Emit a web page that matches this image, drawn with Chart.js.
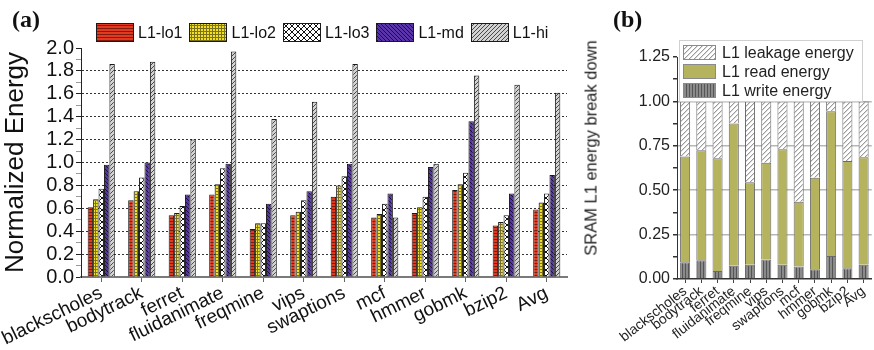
<!DOCTYPE html>
<html>
<head>
<meta charset="utf-8">
<script src="https://cdn.jsdelivr.net/npm/chart.js@4.4.1/dist/chart.umd.min.js"></script>
<style>
  html, body { margin: 0; padding: 0; background: #fff; }
  body { width: 874px; height: 350px; position: relative; overflow: hidden;
         font-family: "Liberation Sans", Arial, sans-serif; color: #111; }
  canvas { position: absolute; top: 0; }
  #chartA { left: 0; }
  #chartB { left: 577px; filter: blur(0.35px); }
  .tag { position: absolute; font-family: "Liberation Serif", "Times New Roman", serif;
         font-weight: bold; font-size: 24px; line-height: 1; color: #111; }
  #legendA { position: absolute; left: 96px; top: 23px; display: flex; align-items: center;
             font-size: 16px; line-height: 19px; white-space: nowrap; }
  #legendA .item { display: flex; align-items: center; margin-right: 7px; }
  #legendA canvas, #legendB canvas { position: static; display: block; }
  #legendA .label { margin-left: 4px; }
  #legendB { position: absolute; left: 679px; top: 40px; background: #fff; color: #222;
             border: 1px solid #d0d0d0; padding: 2px 8px 1px 3px; font-size: 16px; white-space: nowrap;
             filter: blur(0.3px); }
  #legendB .item { display: flex; align-items: center; height: 19px; }
  #legendB .label { margin-left: 6px; }
  #titleB { position: absolute; left: 591px; top: 148px; font-size: 16.5px; color: #222;
            white-space: nowrap; transform: translate(-50%, -50%) rotate(-90deg); filter: blur(0.3px); }
</style>
</head>
<body>
<canvas id="chartA" width="600" height="350"></canvas>
<canvas id="chartB" width="297" height="350"></canvas>
<div class="tag" style="left:12px; top:7px;">(a)</div>
<div class="tag" style="left:613px; top:7px;">(b)</div>
<div id="titleB">SRAM L1 energy break down</div>
<div id="legendA"></div>
<div id="legendB"></div>

<script>
// ---- Panel (a): normalized L1 energy per benchmark ----
const categories = ['blackscholes', 'bodytrack', 'ferret', 'fluidanimate', 'freqmine', 'vips',
                    'swaptions', 'mcf', 'hmmer', 'gobmk', 'bzip2', 'Avg'];
const seriesNames = ['L1-lo1', 'L1-lo2', 'L1-lo3', 'L1-md', 'L1-hi'];
const lo1 = [0.61, 0.67, 0.54, 0.72, 0.42, 0.54, 0.70, 0.52, 0.56, 0.76, 0.45, 0.59];
const lo2 = [0.68, 0.75, 0.56, 0.81, 0.47, 0.57, 0.80, 0.55, 0.61, 0.81, 0.48, 0.65];
const lo3 = [0.77, 0.87, 0.62, 0.95, 0.47, 0.67, 0.88, 0.64, 0.70, 0.91, 0.54, 0.73];
const md  = [0.98, 1.00, 0.72, 0.99, 0.64, 0.75, 0.99, 0.73, 0.96, 1.36, 0.73, 0.89];
const hi  = [1.86, 1.88, 1.20, 1.97, 1.38, 1.53, 1.86, 0.52, 0.99, 1.76, 1.68, 1.61];
const yTicksA = ['0.0', '0.2', '0.4', '0.6', '0.8', '1.0', '1.2', '1.4', '1.6', '1.8', '2.0'];

// ---- Panel (b): SRAM L1 energy breakdown ----
const breakdownNames = ['L1 write energy', 'L1 read energy', 'L1 leakage energy'];
const writeEnergy   = [0.095, 0.105, 0.045, 0.075, 0.080, 0.110, 0.080, 0.070, 0.055, 0.130, 0.060, 0.080];
const readEnergy    = [0.595, 0.620, 0.635, 0.800, 0.465, 0.545, 0.650, 0.365, 0.515, 0.815, 0.605, 0.605];
const leakageEnergy = [0.310, 0.275, 0.320, 0.125, 0.455, 0.345, 0.270, 0.565, 0.430, 0.055, 0.335, 0.315];
const yTicksB = ['0.00', '0.25', '0.50', '0.75', '1.00', '1.25'];

// Small repeating tiles used as hatch fills
function tile(w, h, bg, paint) {
  const c = document.createElement('canvas');
  c.width = w; c.height = h;
  const g = c.getContext('2d');
  g.fillStyle = bg; g.fillRect(0, 0, w, h);
  if (paint) paint(g);
  return c;
}
function dots(g, color, pts) { g.fillStyle = color; pts.forEach(([x, y]) => g.fillRect(x, y, 1, 1)); }

const tiles = {
  lo1: tile(4, 3, '#e2391f', g => { g.fillStyle = '#7c1d10'; g.fillRect(0, 2, 4, 1); }),
  lo2: tile(3, 3, '#f2e21c', g => { g.fillStyle = '#7a7020'; g.fillRect(0, 2, 3, 1); g.fillRect(2, 0, 1, 3); }),
  lo3: tile(6, 6, '#ffffff', g => dots(g, '#111', [[0,0],[1,1],[2,2],[3,3],[4,4],[5,5],[5,0],[4,1],[3,2],[2,3],[1,4],[0,5]])),
  md:  tile(4, 4, '#5834a8', g => dots(g, '#1b0f3c', [[0,0],[1,1],[2,2],[3,3]])),
  hi:  tile(4, 4, '#d3d3d3', g => dots(g, '#4a4a4a', [[3,0],[2,1],[1,2],[0,3]])),
  leak: tile(5, 5, '#ffffff', g => {
    dots(g, '#9a9a9a', [[4,0],[3,1],[2,2],[1,3],[0,4]]);
    dots(g, '#dadada', [[0,0],[4,1],[3,2],[2,3],[1,4]]);
  }),
  read: tile(2, 2, '#b5b35d'),
  write: tile(3, 1, '#8a8a8a', g => { g.fillStyle = '#555'; g.fillRect(0, 0, 1, 1); })
};

const ctxA = document.getElementById('chartA').getContext('2d');
const ctxB = document.getElementById('chartB').getContext('2d');
const pat = (ctx, key) => ctx.createPattern(tiles[key], 'repeat');

const seriesA = [lo1, lo2, lo3, md, hi];
const tileKeysA = ['lo1', 'lo2', 'lo3', 'md', 'hi'];

const chartA = new Chart(ctxA, {
  type: 'bar',
  data: {
    labels: categories,
    datasets: seriesA.map((vals, i) => ({
      label: seriesNames[i],
      data: vals,
      tileKey: tileKeysA[i],
      backgroundColor: pat(ctxA, tileKeysA[i]),
      borderColor: '#1a1a1a',
      borderWidth: 1,
      categoryPercentage: 0.67,
      barPercentage: 1.0
    }))
  },
  options: {
    responsive: false,
    animation: false,
    layout: { padding: { top: 48, right: 33, bottom: 0, left: 0 } },
    plugins: { legend: { display: false }, tooltip: { enabled: false } },
    scales: {
      x: {
        grid: { offset: false, drawOnChartArea: false, tickLength: 5, color: '#666' },
        border: { color: '#7a7a7a', width: 2 },
        ticks: { font: { size: 19, family: '"Liberation Sans", Arial' }, color: '#111',
                 minRotation: 26, maxRotation: 26, autoSkip: false, padding: 0 },
        afterFit(s) { s.height = 73; }
      },
      y: {
        min: 0, max: 2,
        ticks: {
          stepSize: 0.1, autoSkip: false, padding: 2, color: '#111',
          font: { size: 20, family: '"Liberation Sans", Arial' },
          callback: (v, i) => (i % 2 ? '' : yTicksA[i / 2])
        },
        grid: {
          color: c => (c.index % 2 || c.index === 0 || c.index === 20) ? 'rgba(0,0,0,0)' : '#333',
          tickColor: c => (c.index % 2 ? '#9a9a9a' : '#222'),
          tickLength: 5, lineWidth: 1
        },
        border: { color: '#222', width: 1, dash: [2, 2] },
        title: { display: true, text: 'Normalized Energy', color: '#111',
                 font: { size: 26, family: '"Liberation Sans", Arial' }, padding: { top: 0, bottom: 3 } },
        afterFit(s) { s.width = 81; }
      }
    }
  }
});

const seriesB = [writeEnergy, readEnergy, leakageEnergy];
const tileKeysB = ['write', 'read', 'leak'];

const chartB = new Chart(ctxB, {
  type: 'bar',
  data: {
    labels: categories,
    datasets: seriesB.map((vals, i) => ({
      label: breakdownNames[i],
      data: vals,
      tileKey: tileKeysB[i],
      backgroundColor: pat(ctxB, tileKeysB[i]),
      borderColor: '#6a6a6a',
      borderWidth: 1,
      categoryPercentage: 0.62,
      barPercentage: 1.0
    }))
  },
  options: {
    responsive: false,
    animation: false,
    layout: { padding: { top: 57, right: 1, bottom: 0, left: 0 } },
    plugins: { legend: { display: false }, tooltip: { enabled: false } },
    scales: {
      x: {
        stacked: true,
        grid: { offset: false, drawOnChartArea: false, tickLength: 4, color: '#444' },
        border: { color: '#333', width: 1.5 },
        ticks: { font: { size: 14, family: '"Liberation Sans", Arial' }, color: '#222',
                 minRotation: 38, maxRotation: 38, autoSkip: false, padding: 0 },
        afterFit(s) { s.height = 71; }
      },
      y: {
        stacked: true, min: 0, max: 1.25, z: 1,
        ticks: {
          stepSize: 0.125, autoSkip: false, padding: 3, color: '#222',
          font: { size: 16, family: '"Liberation Sans", Arial' },
          callback: (v, i) => (i % 2 ? '' : yTicksB[i / 2])
        },
        grid: {
          color: c => (c.index % 2 || c.index === 0 || c.index === 10) ? 'rgba(0,0,0,0)' : 'rgba(95,95,95,0.45)',
          tickColor: '#333', tickLength: 4, lineWidth: 1.5
        },
        border: { color: '#333', width: 1 },
        afterFit(s) { s.width = 100; }
      }
    }
  }
});

// HTML legends built from each chart's datasets
function buildLegend(chart, el, boxW, boxH, boxBorder, order) {
  const ds = chart.data.datasets;
  order.forEach(i => {
    const item = document.createElement('div');
    item.className = 'item';
    const c = document.createElement('canvas');
    c.width = boxW; c.height = boxH;
    const g = c.getContext('2d');
    g.fillStyle = g.createPattern(tiles[ds[i].tileKey], 'repeat');
    g.fillRect(0, 0, boxW, boxH);
    g.strokeStyle = boxBorder; g.lineWidth = 1;
    g.strokeRect(0.5, 0.5, boxW - 1, boxH - 1);
    const t = document.createElement('span');
    t.className = 'label';
    t.textContent = ds[i].label;
    item.appendChild(c); item.appendChild(t);
    el.appendChild(item);
  });
}
buildLegend(chartA, document.getElementById('legendA'), 38, 19, '#1a1a1a', [0, 1, 2, 3, 4]);
buildLegend(chartB, document.getElementById('legendB'), 33, 15, '#8a8a8a', [2, 1, 0]);
</script>
</body>
</html>
